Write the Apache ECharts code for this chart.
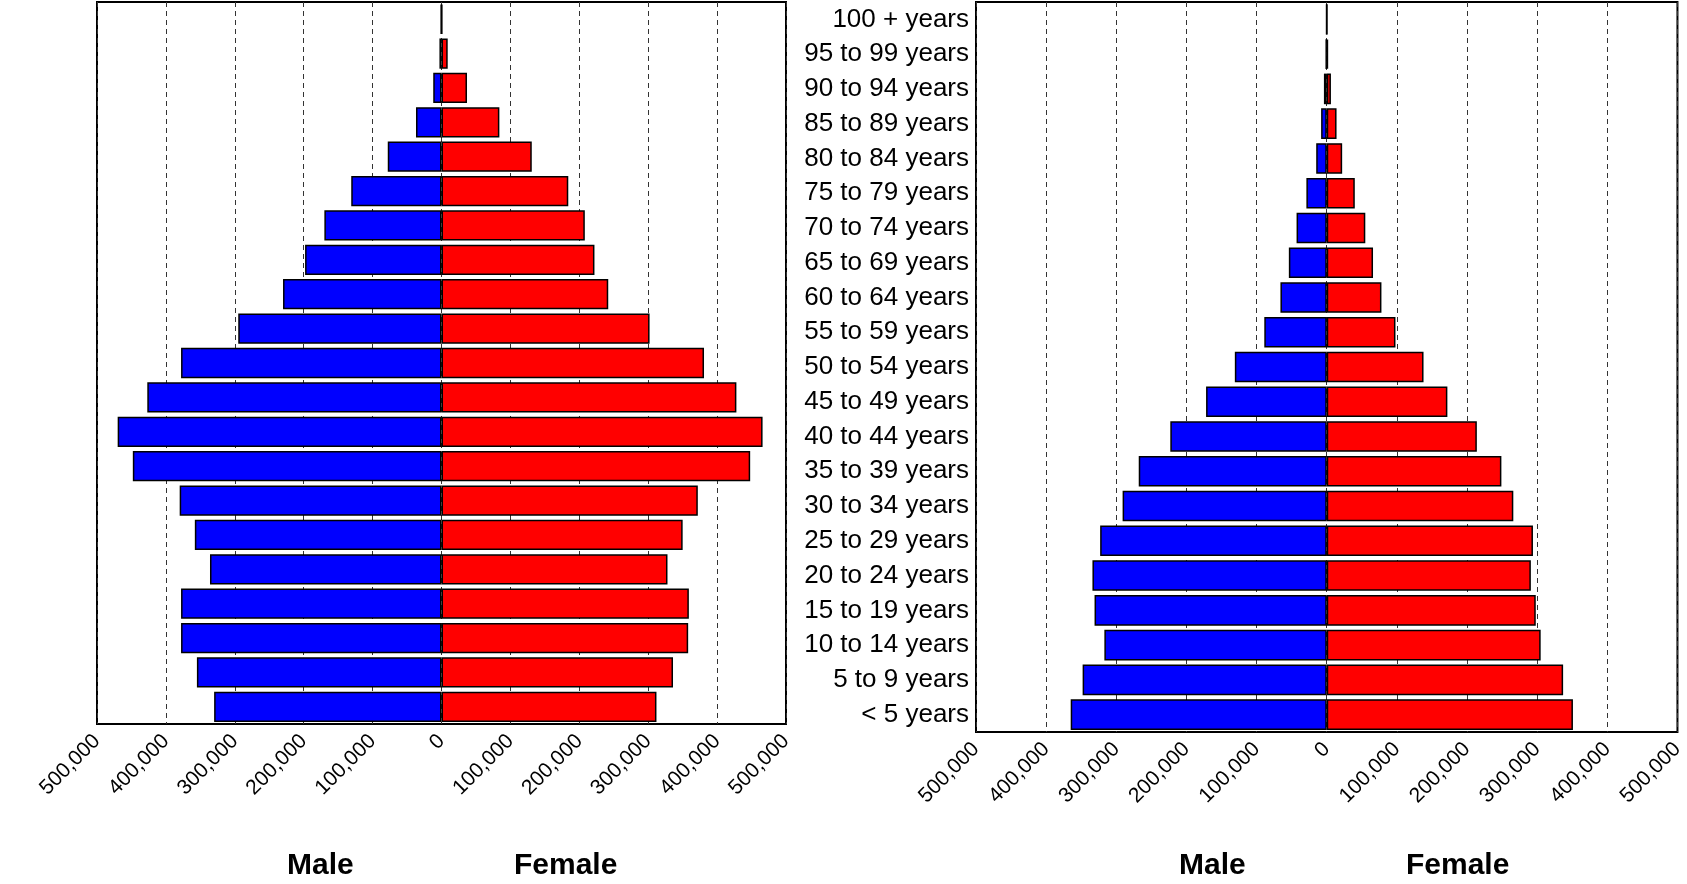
<!DOCTYPE html>
<html><head><meta charset="utf-8">
<script src="https://cdn.jsdelivr.net/npm/echarts@6/dist/echarts.min.js"></script>
<style>html,body{margin:0;padding:0;background:#fff}#c{width:1687px;height:884px}</style>
</head><body><div id="c"></div>
<script>
const categories = ["< 5 years","5 to 9 years","10 to 14 years","15 to 19 years","20 to 24 years","25 to 29 years","30 to 34 years","35 to 39 years","40 to 44 years","45 to 49 years","50 to 54 years","55 to 59 years","60 to 64 years","65 to 69 years","70 to 74 years","75 to 79 years","80 to 84 years","85 to 89 years","90 to 94 years","95 to 99 years","100 + years"];
const leftMale = [330000,355000,378000,378000,336000,358000,380000,448000,470000,427000,378000,295000,230000,198000,170000,131000,78000,37000,12000,3000,1000];
const leftFemale = [312000,336000,358000,359000,328000,350000,372000,448000,466000,428000,381000,302000,242000,222000,208000,184000,131000,84000,37000,9000,1000];
const rightMale = [365000,348000,317000,331000,334000,323000,291000,268000,223000,172000,131000,89000,66000,54000,43000,29000,15000,8000,4000,1500,500];
const rightFemale = [351000,337000,305000,298000,291000,294000,266000,249000,214000,172000,138000,98000,78000,66000,55000,40000,22000,14000,6000,2000,500];

const fmt = v => Math.abs(v).toLocaleString('en-US');
function xAxis(i){return {gridIndex:i,type:'value',min:-500000,max:500000,interval:100000,
  axisLine:{show:false},axisTick:{show:false},
  axisLabel:{rotate:45,formatter:fmt,fontSize:21,color:'#000',fontFamily:'Arial, Liberation Sans',margin:14},
  splitLine:{show:true,lineStyle:{type:[5,4],color:'#333',width:1}}};}
function yAxis(i,show){return {gridIndex:i,type:'category',data:categories,axisTick:{show:false},
  axisLine:{show:false},axisLabel:{show:show,interval:0,hideOverlap:false,fontSize:26,color:'#000',fontFamily:'Arial, Liberation Sans',margin:7}};}
function bars(i,m,f){
  const st={borderColor:'#000',borderWidth:1.5};
  return [
   {type:'bar',xAxisIndex:i,yAxisIndex:i,stack:'s'+i,data:m.map(v=>-v),itemStyle:Object.assign({color:'#0000ff'},st),barCategoryGap:'12%',silent:true},
   {type:'bar',xAxisIndex:i,yAxisIndex:i,stack:'s'+i,data:f,itemStyle:Object.assign({color:'#ff0000'},st),barCategoryGap:'12%',silent:true}];
}
const chart = echarts.init(document.getElementById('c'));
const tstyle={fontSize:30,fontWeight:'bold',fill:'#000',fontFamily:'Arial, Liberation Sans'};
chart.setOption({
  animation:false,
  grid:[{left:97,top:2,width:689,height:722,show:true,borderColor:'#000',borderWidth:2,backgroundColor:'transparent'},
        {left:976,top:2,width:702,height:730,show:true,borderColor:'#000',borderWidth:2,backgroundColor:'transparent'}],
  xAxis:[xAxis(0),xAxis(1)],
  yAxis:[yAxis(0,false),yAxis(1,true)],
  series:[...bars(0,leftMale,leftFemale),...bars(1,rightMale,rightFemale)],
  graphic:[
    {type:'text',left:287,top:851,style:Object.assign({text:'Male'},tstyle)},
    {type:'text',left:514,top:851,style:Object.assign({text:'Female'},tstyle)},
    {type:'text',left:1179,top:851,style:Object.assign({text:'Male'},tstyle)},
    {type:'text',left:1406,top:851,style:Object.assign({text:'Female'},tstyle)}
  ]
});
</script></body></html>
